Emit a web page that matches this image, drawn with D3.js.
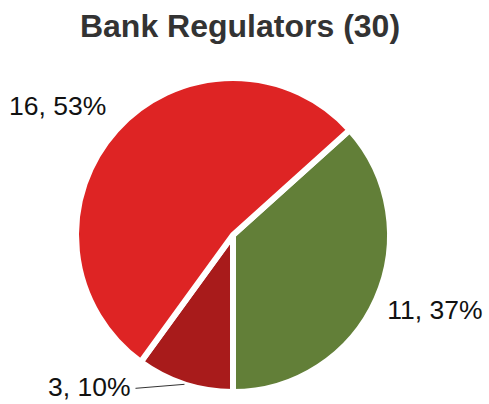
<!DOCTYPE html>
<html>
<head>
<meta charset="utf-8">
<script src="https://cdn.jsdelivr.net/npm/d3@7/dist/d3.min.js"></script>
<style>
  html, body { margin: 0; padding: 0; background: #fff; }
  svg { display: block; font-family: "Liberation Sans", Arial, sans-serif; }
</style>
</head>
<body>
<svg id="chart" width="489" height="404"></svg>
<script>
const title = "Bank Regulators (30)";
const categories = ["Segment A", "Segment B", "Segment C"];
const values = [11, 3, 16];
const colors = ["#627F38", "#A81B1B", "#DE2424"];

const svg = d3.select("#chart");
const W = 489, H = 404;
const cx = 233, cy = 235, R = 157;

svg.append("text")
  .attr("x", 240).attr("y", 37)
  .attr("text-anchor", "middle")
  .attr("font-size", 32).attr("font-weight", "bold")
  .attr("fill", "#333333")
  .text(title);

const total = d3.sum(values);
const data = categories.map((c, i) => ({ cat: c, value: values[i], color: colors[i] }));

const a0 = Math.PI - 2 * Math.PI * values[0] / total;
const pie = d3.pie().sort(null).value(d => d.value)
  .startAngle(a0).endAngle(a0 + 2 * Math.PI);
const arcs = pie(data);
const arc = d3.arc().innerRadius(0).outerRadius(R);

const g = svg.append("g").attr("transform", `translate(${cx},${cy})`);
g.selectAll("path").data(arcs).join("path")
  .attr("d", arc)
  .attr("fill", d => d.data.color)
  .attr("stroke", "#ffffff")
  .attr("stroke-width", 6)
  .attr("stroke-linejoin", "miter");

function polar(a, r) { return [Math.sin(a) * r, -Math.cos(a) * r]; }

// label layout per slice
const labelLayout = [
  { r: 170, dx: -1, dy: 15, anchor: "start", leader: false },
  { r: 157, dx: 0, dy: 0, anchor: "end", leader: true },
  { r: 180, dx: 7, dy: 0, anchor: "end", leader: false }
];

arcs.forEach((d, i) => {
  const mid = (d.startAngle + d.endAngle) / 2;
  const L = labelLayout[i];
  const pct = Math.round(d.data.value / total * 100);
  const txt = `${d.data.value}, ${pct}%`;
  if (L.leader) {
    const p = polar(mid, L.r);
    const x1 = p[0] - 49, y1 = p[1] + 4;
    g.append("line")
      .attr("x1", p[0]).attr("y1", p[1])
      .attr("x2", x1).attr("y2", y1)
      .attr("stroke", "#333").attr("stroke-width", 1);
    g.append("text")
      .attr("x", x1 - 5).attr("y", y1 + 8)
      .attr("text-anchor", "end")
      .attr("font-size", 26.5).attr("fill", "#111")
      .text(txt);
  } else {
    const p = polar(mid, L.r);
    g.append("text")
      .attr("x", p[0] + L.dx).attr("y", p[1] + L.dy)
      .attr("text-anchor", L.anchor)
      .attr("font-size", 26.5).attr("fill", "#111")
      .text(txt);
  }
});
</script>
</body>
</html>
